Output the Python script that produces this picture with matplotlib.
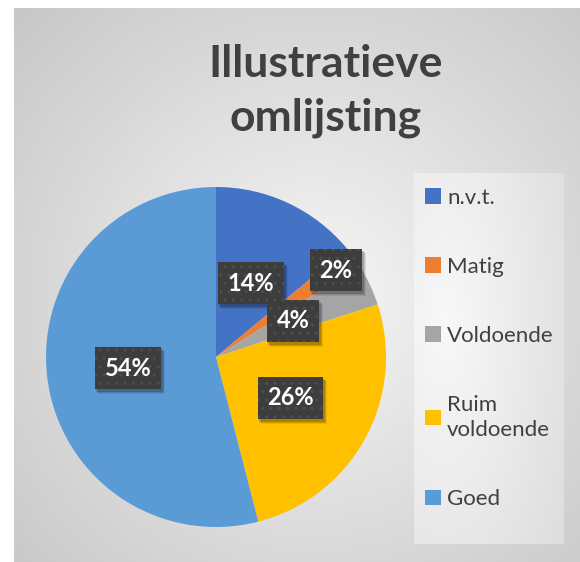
import numpy as np
import matplotlib
matplotlib.use("Agg")
import matplotlib.pyplot as plt
from matplotlib.patches import Rectangle

# data
categories = ["n.v.t.", "Matig", "Voldoende", "Ruim\nvoldoende", "Goed"]
values = [14, 2, 4, 26, 54]
colors = ["#4472C4", "#ED7D31", "#A5A5A5", "#FFC000", "#5B9BD5"]
label_dist = [0.48, 0.87, 0.5, 0.5, 0.52]

W, H = 580, 562
fig = plt.figure(figsize=(W / 100, H / 100), dpi=100)
fig.patch.set_facecolor("white")

# radial gradient background (chart area)
bg = fig.add_axes([14 / W, 0, 1 - 14 / W, 1 - 8 / H])
yy, xx = np.mgrid[0:554, 0:566]
r = np.hypot(xx - 300, yy - 290) / 430
r = np.clip(r, 0, 1)
shade = 0.965 - 0.19 * r
bg.imshow(np.dstack([shade] * 3), aspect="auto", extent=[0, 1, 0, 1])
bg.set_axis_off()

# legend box
lg = fig.add_axes([414 / W, 1 - 544 / H, 150 / W, 371 / H])
yy, xx = np.mgrid[0:100, 0:100]
r = np.clip(np.hypot(xx - 20, yy - 40) / 110, 0, 1)
shade = 0.975 - 0.12 * r
lg.imshow(np.dstack([shade] * 3), aspect="auto", extent=[0, 1, 0, 1])
lg.set_axis_off()

# title
fig.text(326 / W, 1 - 91 / H, "Illustratieve\nomlijsting", ha="center", va="center",
         fontsize=32, fontweight="bold", color="#404040", family="Lato",
         linespacing=1.42)

# pie
ax = fig.add_axes([46 / W, 1 - 527 / H, 340 / W, 340 / H])
wedges, _ = ax.pie(values, colors=colors, startangle=90, counterclock=False,
                   radius=1, wedgeprops=dict(linewidth=0))
ax.set_xlim(-1, 1)
ax.set_ylim(-1, 1)
ax.set_aspect("equal")
ax.set_axis_off()

total = sum(values)
labels = []
for w, v, d in zip(wedges, values, label_dist):
    ang = np.deg2rad((w.theta1 + w.theta2) / 2)
    t = ax.text(d * np.cos(ang), d * np.sin(ang), f"{round(100 * v / total)}%",
                ha="center", va="center", color="white", fontsize=17,
                fontweight="bold", family="Lato", zorder=5,
                bbox=dict(boxstyle="square,pad=0.4", fc="#3d3d3d",
                          ec="#4e4e4e", hatch="..", lw=0))
    labels.append(t)

leg = fig.legend(wedges, categories, loc="upper left",
                 bbox_to_anchor=(405 / W, 1 - 168 / H), frameon=False,
                 labelspacing=2.2, handlelength=0.7, handleheight=0.7,
                 handletextpad=0.3, prop=dict(family="Lato", size=16))
for t in leg.get_texts():
    t.set_color("#404040")
    t.set_linespacing(1.35)

# soft drop shadow under the data label boxes
fig.canvas.draw()
for t in labels:
    bb = t.get_bbox_patch().get_window_extent()
    for k, a in [(4, 0.08), (3, 0.12), (2, 0.16)]:
        ax.add_artist(Rectangle((bb.x0 + k - 1, bb.y0 - k - 1), bb.width + 1, bb.height + 1,
                                transform=None, fc="black", alpha=a, lw=0, zorder=4))

fig.savefig("out.png", dpi=100)
